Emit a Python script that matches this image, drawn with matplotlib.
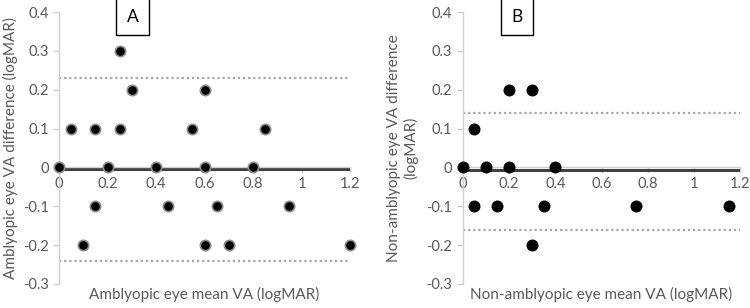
import numpy as np
import matplotlib
matplotlib.use('Agg')
import matplotlib.pyplot as plt

plt.rcParams['font.family'] = ['Lato', 'DejaVu Sans']

# Panel A: amblyopic eye
a_mean = [0, 0.05, 0.1, 0.15, 0.15, 0.2, 0.25, 0.25, 0.3, 0.4, 0.45,
          0.55, 0.6, 0.6, 0.6, 0.65, 0.7, 0.8, 0.85, 0.95, 1.2]
a_diff = [0, 0.1, -0.2, 0.1, -0.1, 0, 0.3, 0.1, 0.2, 0, -0.1,
          0.1, 0.2, 0, -0.2, -0.1, -0.2, 0, 0.1, -0.1, -0.2]
a_bias = -0.005
a_loa = [0.23, -0.24]

# Panel B: non-amblyopic eye
b_mean = [0, 0.05, 0.05, 0.1, 0.15, 0.2, 0.2, 0.3, 0.3, 0.35, 0.4, 0.75, 1.15]
b_diff = [0, 0.1, -0.1, 0, -0.1, 0.2, 0, 0.2, -0.2, -0.1, 0, -0.1, -0.1]
b_bias = -0.007
b_loa = [0.14, -0.16]

xticks = [0, 0.2, 0.4, 0.6, 0.8, 1, 1.2]
xlabels = ['0', '0.2', '0.4', '0.6', '0.8', '1', '1.2']
yticks = [-0.3, -0.2, -0.1, 0, 0.1, 0.2, 0.3, 0.4]
ylabels = ['-0.3', '-0.2', '-0.1', '0', '0.1', '0.2', '0.3', '0.4']

grey = '#595959'
axcol = '#d0d0d0'

fig = plt.figure(figsize=(7.5, 3.08), dpi=100)
axA = fig.add_axes([0.0787, 0.078, 0.388, 0.883])
axB = fig.add_axes([0.617, 0.078, 0.370, 0.883])


def draw(ax, xs, ys, bias, loa, xlabel, ylabel, tag, tag_x, edge):
    ax.set_xlim(0, 1.2)
    ax.set_ylim(-0.3, 0.4)
    for v in loa:
        ax.axhline(v, color='#a6a6a6', lw=1.6, ls=(0, (1, 1.3)))
    ax.axhline(bias, color='#404040', lw=2.2, zorder=2)
    ax.scatter(xs, ys, s=55, color='black', edgecolors=edge, linewidths=1.2,
               zorder=3, clip_on=False)
    for s in ['top', 'right']:
        ax.spines[s].set_visible(False)
    ax.spines['bottom'].set_position(('data', 0))
    ax.spines['bottom'].set_color(axcol)
    ax.spines['left'].set_color(axcol)
    ax.spines['bottom'].set_linewidth(1.0)
    ax.spines['left'].set_linewidth(1.0)
    ax.set_xticks(xticks)
    ax.set_xticklabels(xlabels)
    ax.set_yticks(yticks)
    ax.set_yticklabels(ylabels)
    ax.tick_params(axis='both', colors=axcol, labelcolor=grey, labelsize=10.5,
                   length=4, width=1)
    ax.tick_params(axis='x', pad=3)
    ax.set_xlabel(xlabel, fontsize=11, color=grey, va='center')
    ax.xaxis.set_label_coords(0.5, -0.04)
    ax.set_ylabel(ylabel, fontsize=11, color=grey, va='center')
    ax.text(tag_x, 0.982, tag, transform=ax.transAxes, fontsize=12.5,
            ha='center', va='center',
            bbox=dict(boxstyle='square,pad=0.6', fc='white', ec='black', lw=1))


draw(axA, a_mean, a_diff, a_bias, a_loa, 'Amblyopic eye mean VA (logMAR)',
     'Amblyopic eye VA difference (logMAR)', 'A', 0.253, '#8c8c8c')
axA.yaxis.set_label_coords(-0.167, 0.5)
draw(axB, b_mean, b_diff, b_bias, b_loa, 'Non-amblyopic eye mean VA (logMAR)',
     'Non-amblyopic eye VA difference\n(logMAR)', 'B', 0.195, 'black')
axB.yaxis.set_label_coords(-0.215, 0.5)

fig.savefig('out.png', dpi=100)
